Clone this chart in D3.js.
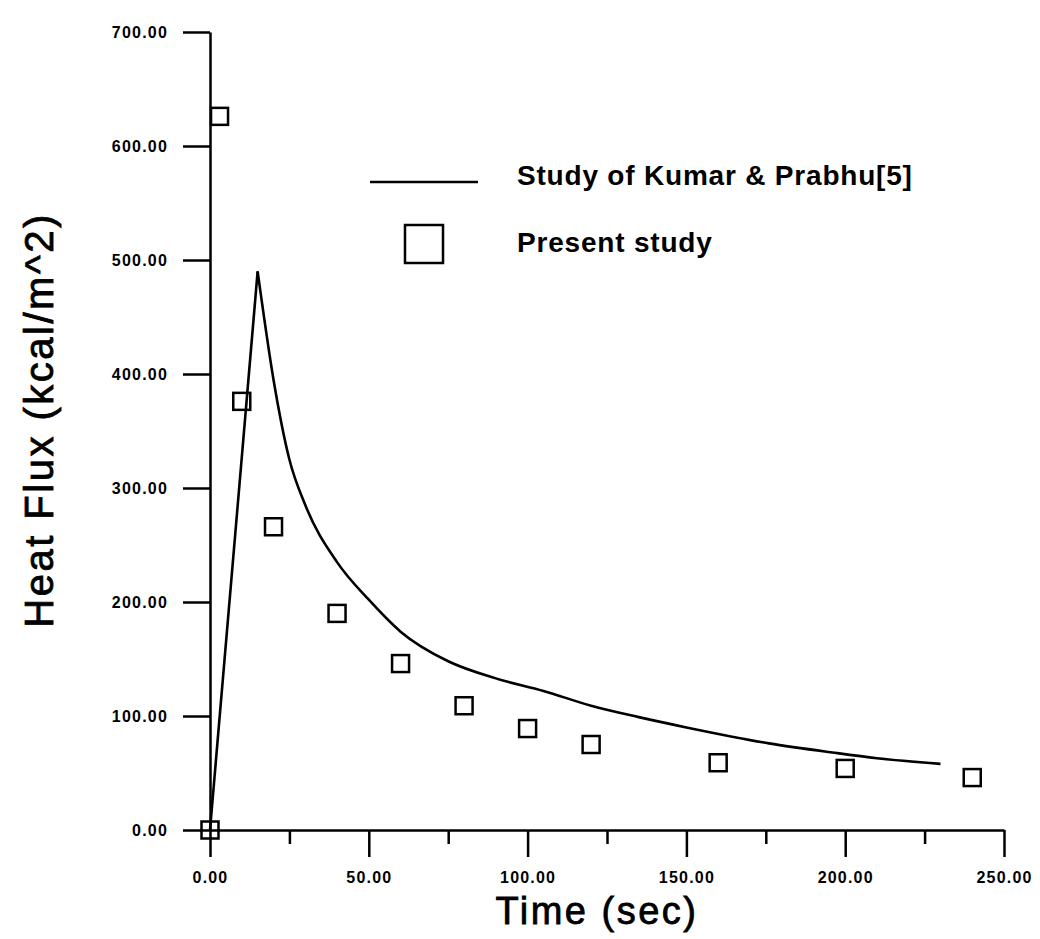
<!DOCTYPE html>
<html>
<head>
<meta charset="utf-8">
<script src="https://cdn.jsdelivr.net/npm/d3@7"></script>
<style>
  html, body { margin: 0; padding: 0; background: #fff; }
  svg { display: block; }
  text { font-family: "Liberation Sans", Arial, Helvetica, sans-serif; fill: #000; }
</style>
</head>
<body>
<svg id="chart" width="1040" height="939"></svg>
<script>
// ---- Data ----
const kumarTime = [0, 15, 20, 25, 30, 40, 50, 60, 75, 90, 105, 120, 135, 150, 176, 196, 210, 230];
const kumarFlux = [0, 490, 395, 325, 285, 235, 202, 174, 148, 133, 122, 109, 99, 90, 76, 68, 63, 58];

const presentTime = [0, 3, 10, 20, 40, 60, 80, 100, 120, 160, 200, 240];
const presentFlux = [0, 626, 376, 266, 190, 146, 109, 89, 75, 59, 54, 46];

const xMajorTicks = [0, 50, 100, 150, 200, 250];
const xMinorTicks = [25, 75, 125, 175, 225];
const yTicks = [0, 100, 200, 300, 400, 500, 600, 700];

const xTitle = "Time (sec)";
const yTitle = "Heat Flux (kcal/m^2)";
const legendLine = "Study of Kumar & Prabhu[5]";
const legendMarker = "Present study";

// ---- Chart ----
const svg = d3.select("#chart");
const x = d3.scaleLinear().domain([0, 250]).range([210, 1004]);
const y = d3.scaleLinear().domain([0, 700]).range([830, 32]);
const fmt = d3.format(".2f");

// y axis
const gy = svg.append("g").attr("transform", `translate(${x(0)},0)`)
  .call(d3.axisLeft(y).tickValues(yTicks).tickFormat(fmt).tickSize(27).tickSizeOuter(0).tickPadding(15));
// x axis major
const gx = svg.append("g").attr("transform", `translate(0,${y(0)})`)
  .call(d3.axisBottom(x).tickValues(xMajorTicks).tickFormat(fmt).tickSize(27).tickSizeOuter(0).tickPadding(15));
// x axis minor
const gxm = svg.append("g").attr("transform", `translate(0,${y(0)})`)
  .call(d3.axisBottom(x).tickValues(xMinorTicks).tickFormat("").tickSize(14).tickSizeOuter(0));
gxm.select(".domain").remove();

[gy, gx, gxm].forEach(g => {
  g.selectAll(".domain").attr("stroke", "#000").attr("stroke-width", 2.5);
  g.selectAll(".tick line").attr("stroke", "#000").attr("stroke-width", 2.5);
  g.selectAll(".tick text")
    .style("font-family", '"Liberation Sans", Arial, sans-serif')
    .style("font-weight", "bold").style("font-size", "16px")
    .style("letter-spacing", "1.2px").attr("fill", "#000");
});

// Kumar & Prabhu line: straight rise to the sharp peak, smooth decay after it
const kumarData = kumarTime.map((t, i) => [t, kumarFlux[i]]);
const peak = d3.maxIndex(kumarFlux);
const lineGen = d3.line().x(d => x(d[0])).y(d => y(d[1]));
svg.append("path")
  .datum(kumarData.slice(0, peak + 1))
  .attr("fill", "none").attr("stroke", "#000").attr("stroke-width", 2.6)
  .attr("stroke-linejoin", "round")
  .attr("d", lineGen.curve(d3.curveLinear));
svg.append("path")
  .datum(kumarData.slice(peak))
  .attr("fill", "none").attr("stroke", "#000").attr("stroke-width", 2.6)
  .attr("stroke-linejoin", "round")
  .attr("d", lineGen.curve(d3.curveMonotoneX));

// Present study squares
const ms = 17;
svg.append("g").selectAll("rect")
  .data(presentTime.map((t, i) => [t, presentFlux[i]]))
  .join("rect")
  .attr("x", d => x(d[0]) - ms / 2)
  .attr("y", d => y(d[1]) - ms / 2)
  .attr("width", ms).attr("height", ms)
  .attr("fill", "none").attr("stroke", "#000").attr("stroke-width", 2.5);

// Legend
svg.append("line").attr("x1", 370).attr("x2", 478).attr("y1", 182).attr("y2", 182)
  .attr("stroke", "#000").attr("stroke-width", 2.6);
svg.append("text").attr("x", 517).attr("y", 185)
  .style("font-weight", "bold").style("font-size", "28px").style("letter-spacing", "0.8px")
  .text(legendLine);
svg.append("rect").attr("x", 405).attr("y", 225).attr("width", 38).attr("height", 38)
  .attr("fill", "none").attr("stroke", "#000").attr("stroke-width", 2.5);
svg.append("text").attr("x", 517).attr("y", 252)
  .style("font-weight", "bold").style("font-size", "28px").style("letter-spacing", "0.8px")
  .text(legendMarker);

// Axis titles
svg.append("text").attr("x", 597).attr("y", 924).attr("text-anchor", "middle")
  .style("font-size", "38px").style("letter-spacing", "2.5px")
  .attr("stroke", "#000").attr("stroke-width", 0.8)
  .text(xTitle);
svg.append("text").attr("transform", "translate(53,420) rotate(-90)").attr("text-anchor", "middle")
  .style("font-size", "40px").style("letter-spacing", "2.5px")
  .attr("stroke", "#000").attr("stroke-width", 0.8)
  .text(yTitle);
</script>
</body>
</html>
